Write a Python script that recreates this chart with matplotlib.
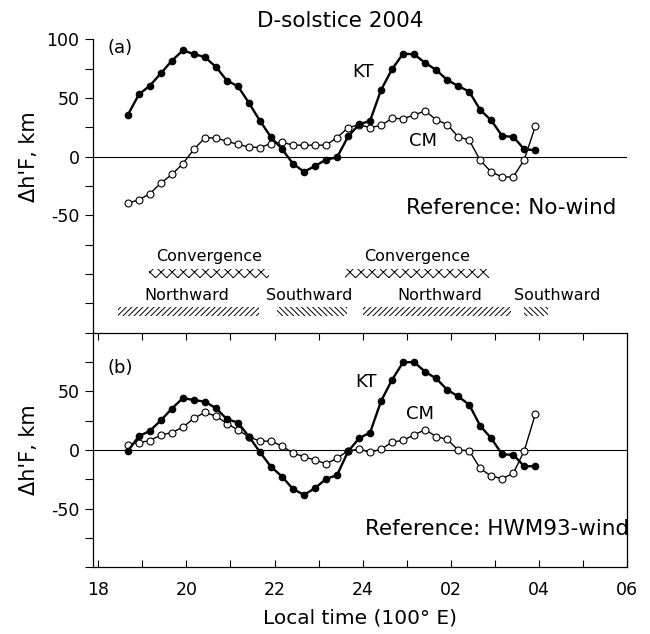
import matplotlib
matplotlib.use("Agg")
import matplotlib.pyplot as plt
from matplotlib.patches import Rectangle

# --- data ---
# local time in hours (24 = midnight, 26 = 02 LT ...)
hours = [18.67, 18.92, 19.17, 19.42, 19.67, 19.92, 20.17, 20.42, 20.67, 20.92,
         21.17, 21.42, 21.67, 21.92, 22.17, 22.42, 22.67, 22.92, 23.17, 23.42,
         23.67, 23.92, 24.17, 24.42, 24.67, 24.92, 25.17, 25.42, 25.67, 25.92,
         26.17, 26.42, 26.67, 26.92, 27.17, 27.42, 27.67, 27.92]

# (a) Reference: No-wind
kt_a = [35.5, 53, 60.5, 71, 81.8, 90.5, 87.5, 84.8, 76.5, 64.8,
        60, 45.8, 30.5, 16.7, 6.5, -6, -12.8, -8, -2.5, -0.6,
        17.2, 27.5, 30.6, 57, 74.6, 87.8, 87.2, 79.9, 73.9, 65.4,
        60.2, 55.5, 39.8, 31, 17.5, 17, 6.2, 5.6]
cm_a = [-39.6, -36.8, -31.6, -22.5, -15.1, -6, 6.3, 16, 16, 13.1,
        10.5, 8.3, 7.8, 11.2, 12.4, 9.8, 9.8, 9.8, 9.8, 16.3,
        24.6, 27.3, 24.7, 26.8, 32.6, 32.4, 35.5, 39, 31.5, 27.4,
        17, 14.1, -3.2, -13, -17.3, -17.3, -2.5, 25.8]

# (b) Reference: HWM93-wind
kt_b = [-0.8, 11.7, 16.3, 25.3, 35.3, 44.3, 42.6, 41.2, 35.7, 26.3,
        23.4, 11.4, -1.8, -14.3, -22.6, -33.3, -38.2, -32.5, -24.7, -21.4,
        -1.2, 10, 14.9, 41.8, 60, 74.9, 74.9, 66.7, 61, 51.4,
        45.7, 38.6, 20.6, 10, -3.8, -4, -14, -13.7]
cm_b = [4.3, 6.3, 8, 12.8, 14.9, 19.4, 27.1, 32, 28.9, 22.6,
        17.1, 11.2, 7.6, 7.6, 3.4, -2.6, -5.7, -8.6, -11.7, -7.1,
        -0.6, 0.6, -1.8, 0.6, 6.7, 8.3, 12.9, 17.4, 11.4, 9.1,
        0, -0.6, -15.7, -22.3, -24.3, -20, -0.6, 30.6]

# convergence / meridional wind periods (hours)
conv_start = [19.14, 23.61]
conv_end = [21.87, 26.87]
wind_start = [18.45, 22.06, 24.0, 27.67]
wind_end = [21.65, 23.65, 27.36, 28.21]
wind_names = ["Northward", "Southward", "Northward", "Southward"]
wind_label_x = [20.02, 22.78, 25.75, 28.41]

xtick_pos = [18, 20, 22, 24, 26, 28, 30]
xtick_lab = ["18", "20", "22", "24", "02", "04", "06"]
ytick_a = [100, 75, 50, 25, 0, -25, -50, -75, -100, -125]
ytick_b = [100, 75, 50, 25, 0, -25, -50, -75, -100]
ylab_shown = [100, 50, 0, -50]
# ------------------------------

plt.rcParams['font.family'] = ['DejaVu Sans']
plt.rcParams['hatch.linewidth'] = 0.7

fig = plt.figure(figsize=(6.5, 6.34), dpi=100)
ax1 = fig.add_axes([0.1435, 0.4752, 0.821, 0.4628])
ax2 = fig.add_axes([0.1435, 0.1052, 0.821, 0.3700])

for ax, kt, cm in [(ax1, kt_a, cm_a), (ax2, kt_b, cm_b)]:
    ax.axhline(0, color='black', lw=0.8, zorder=1)
    ax.plot(hours, cm, '-o', color='black', lw=1.0, ms=5, mfc='white', mew=0.8, zorder=3)
    ax.plot(hours, kt, '-o', color='black', lw=1.7, ms=4.5, mfc='black', zorder=4)
    ax.set_xlim(17.886, 30)
    ax.set_ylabel("\u0394h'F, km", fontsize=15)

# top panel
ax1.set_ylim(-150, 100)
for sp in ['top', 'right', 'bottom']:
    ax1.spines[sp].set_visible(False)
ax1.tick_params(axis='x', bottom=False, labelbottom=False)
ax1.set_yticks(ytick_a)
ax1.set_yticklabels([str(v) if v in ylab_shown else '' for v in ytick_a])
ax1.yaxis.set_label_coords(-0.102, 0.6)

for s, e in zip(conv_start, conv_end):
    ax1.add_patch(Rectangle((s, -103.2), e - s, 7.7, fill=False, hatch='xxx',
                            lw=0, edgecolor='black'))
    ax1.text((s + e) / 2, -85.2, "Convergence", ha='center', va='center', fontsize=11.5)
for s, e, name, lx in zip(wind_start, wind_end, wind_names, wind_label_x):
    ax1.add_patch(Rectangle((s, -135.6), e - s, 7.1, fill=False,
                            hatch='//////' if name == "Northward" else '\\\\\\\\\\\\',
                            lw=0, edgecolor='black'))
    ax1.text(lx, -118.5, name, ha='center', va='center', fontsize=11.5)

ax1.text(18.2, 93, "(a)", ha='left', va='center', fontsize=13)
ax1.text(24.02, 72.3, "KT", ha='center', va='center', fontsize=13)
ax1.text(25.38, 13.7, "CM", ha='center', va='center', fontsize=13)
ax1.text(29.76, -44, "Reference: No-wind", ha='right', va='center', fontsize=15.5)

# bottom panel
ax2.set_ylim(-100, 100)
ax2.set_yticks(ytick_b)
ax2.set_yticklabels([str(v) if v in ylab_shown[1:] else '' for v in ytick_b])
ax2.yaxis.set_label_coords(-0.102, 0.5)
ax2.set_xticks(xtick_pos)
ax2.set_xticklabels(xtick_lab)
ax2.set_xticks(range(19, 30, 2), minor=True)
ax2.tick_params(axis='x', which='both', direction='in', top=True, length=5, width=0.8)
ax2.set_xlabel("Local time (100\u00b0 E)", fontsize=14.5, labelpad=7)

ax2.text(18.2, 70.3, "(b)", ha='left', va='center', fontsize=13)
ax2.text(24.07, 57.6, "KT", ha='center', va='center', fontsize=13)
ax2.text(25.30, 30.4, "CM", ha='center', va='center', fontsize=13)
ax2.text(30.05, -67, "Reference: HWM93-wind", ha='right', va='center', fontsize=15.5)

for ax in (ax1, ax2):
    ax.tick_params(axis='y', direction='out', length=6, width=0.8, labelsize=12.5, pad=4)
    ax.tick_params(axis='x', labelsize=12.5, pad=10)
    for sp in ax.spines.values():
        sp.set_linewidth(0.9)

fig.text(340 / 650, 1 - 21 / 634, "D-solstice 2004", ha='center', va='center', fontsize=15.5)

plt.savefig("out.png", dpi=100)
plt.close()
